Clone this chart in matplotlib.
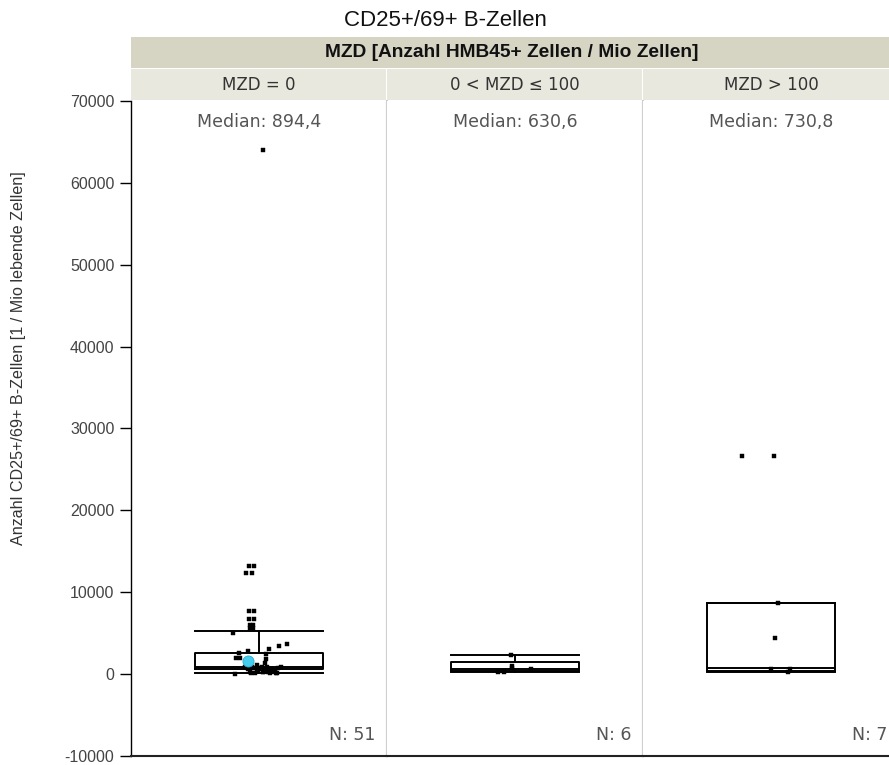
import matplotlib.pyplot as plt
from matplotlib.patches import Rectangle

plt.rcParams["axes.unicode_minus"] = False

# --- data ---
title = "CD25+/69+ B-Zellen"
strip_title = "MZD [Anzahl HMB45+ Zellen / Mio Zellen]"
groups = ["MZD = 0", "0 < MZD \u2264 100", "MZD > 100"]
ylabel = "Anzahl CD25+/69+ B-Zellen [1 / Mio lebende Zellen]"
medians = [894.4, 630.6, 730.8]
counts = [51, 6, 7]

# box statistics per group
q1 = [594, 400, 400]
q3 = [2550, 1490, 8700]
whislo = [105, 190, 190]
whishi = [5270, 2330, 8700]

# single observations per group
vals_0 = [0, 50, 70, 70, 100, 140, 180, 220, 260, 260, 300, 380, 380, 450,
          500, 560, 600, 650, 680, 680, 720, 780, 800, 800, 850, 894.4, 1080,
          1370, 1780, 1980, 1980, 2430, 2590, 2800, 3040, 3450, 3620, 5030,
          5640, 5640, 5970, 5970, 6700, 6700, 7720, 7720, 12360, 12360,
          13180, 13180, 64000]
vals_1 = [190, 190, 600, 661.2, 1000, 2330]
vals_2 = [190, 560, 600, 4350, 8700, 26600, 26600]
# horizontal jitter (pixels from the box centre) as seen in the picture
jit_0 = [-24, 11, -4, 17, -8, 18, 4, 9, -9, 4, 14, 9, 16, -2, 6, -11, 2, 12,
         1, 19, -6, 8, -14, -7, 22, 3, -2,
         6, 7, -23, -19, 7, -20, -11, 10, 20, 28, -26,
         -9, -6, -9, -6, -10, -5, -10, -5, -13, -7, -10, -5, 4]
jit_1 = [-17, -11, 16, -3, -3, -4]
jit_2 = [17, 0, 19, 4, 7, -29, 3]
highlight = (-11, 1600)  # cyan marked value in first group

values = [vals_0, vals_1, vals_2]
jitters = [jit_0, jit_1, jit_2]

W, H = 889, 765
fig = plt.figure(figsize=(W / 100, H / 100), dpi=100)

ax_left = 131
pw = 256
ax_top = 101
ax_bot = 755.7
b = (H - ax_bot) / H
h = (ax_bot - ax_top) / H

tick_font = ["Liberation Sans", "DejaVu Sans"]
wide_font = ["DejaVu Sans"]
txt_col = "#444444"
sep_col = "#cfcfcf"

axes = []
for i in range(3):
    ax = fig.add_axes([(ax_left + i * pw) / W, b, pw / W, h])
    axes.append(ax)
    stats = [dict(med=medians[i], q1=q1[i], q3=q3[i], whislo=whislo[i],
                  whishi=whishi[i], fliers=[])]
    lp = dict(color="black", linewidth=1.4)
    ax.bxp(stats, positions=[0], widths=1.0, capwidths=1.0, showfliers=False,
           boxprops=lp, medianprops=lp, whiskerprops=lp, capprops=lp)
    xs = [j / 128 for j in jitters[i]]
    ax.plot(xs, values[i], ls="none", marker="s", ms=2.2, color="black",
            mec="black", mew=0.3, zorder=4)
    if i == 0:
        ax.plot([highlight[0] / 128], [highlight[1]], marker="o", ms=8,
                color="#45cdee", mec="#2aa9d0", mew=0.6, zorder=5)
    ax.set_xlim(-1, 1)
    ax.set_ylim(-10000, 70000)
    ax.set_xticks([])
    ax.spines["top"].set_visible(False)
    ax.spines["bottom"].set_color("#222222")
    ax.spines["bottom"].set_linewidth(1.5)
    ax.spines["right"].set_color(sep_col)
    ax.spines["right"].set_linewidth(1.6)
    if i == 0:
        ax.spines["left"].set_color("black")
        ax.spines["left"].set_linewidth(1.0)
        ax.set_yticks(range(-10000, 70001, 10000))
        ax.tick_params(axis="y", length=8, width=1.0, pad=4,
                       labelsize=11.5, labelcolor=txt_col)
        for lab in ax.get_yticklabels():
            lab.set_family(tick_font)
    else:
        ax.spines["left"].set_visible(False)
        ax.set_yticks([])
    med_txt = "Median: " + f"{medians[i]:.1f}".replace(".", ",")
    ax.text(0.5, 0.968, med_txt, transform=ax.transAxes, ha="center",
            va="center", fontsize=12.5, color="#555555", family=wide_font)
    ax.text(1 - 12 / pw, 0.032, f"N: {counts[i]}", transform=ax.transAxes,
            ha="right", va="center", fontsize=12.5, color="#555555",
            family=wide_font)

# header strips
def fy(px):
    return (H - px) / H

s1_top, s1_bot = 37, 68
s2_top, s2_bot = 69, 100
fig.add_artist(Rectangle((ax_left / W, fy(s1_bot)), (W - ax_left) / W + 0.02,
                         (s1_bot - s1_top) / H, transform=fig.transFigure,
                         facecolor="#d6d4c3", edgecolor="none"))
for i in range(3):
    fig.add_artist(Rectangle(((ax_left + i * pw) / W, fy(s2_bot)),
                             (pw - 1.5) / W, (s2_bot - s2_top) / H,
                             transform=fig.transFigure,
                             facecolor="#e9e8de", edgecolor="none"))
    fig.text((ax_left + (i + 0.5) * pw) / W, fy((s2_top + s2_bot) / 2),
             groups[i], ha="center", va="center", fontsize=12,
             color="#333333", family=wide_font)

narrow = ["Liberation Sans Narrow", "Liberation Sans", "DejaVu Sans"]
fig.text(512 / W, fy((s1_top + s1_bot) / 2), strip_title,
         ha="center", va="center", fontsize=13.8, fontweight="bold",
         color="#111111", family=narrow)
fig.text(445 / W, fy(21), title, ha="center", va="center", fontsize=16,
         color="#111111", family=narrow)
fig.text(19 / W, fy(358), ylabel, ha="center", va="center", rotation=90,
         fontsize=11.6, color="#333333", family=tick_font)

fig.savefig("out.png", dpi=100)
